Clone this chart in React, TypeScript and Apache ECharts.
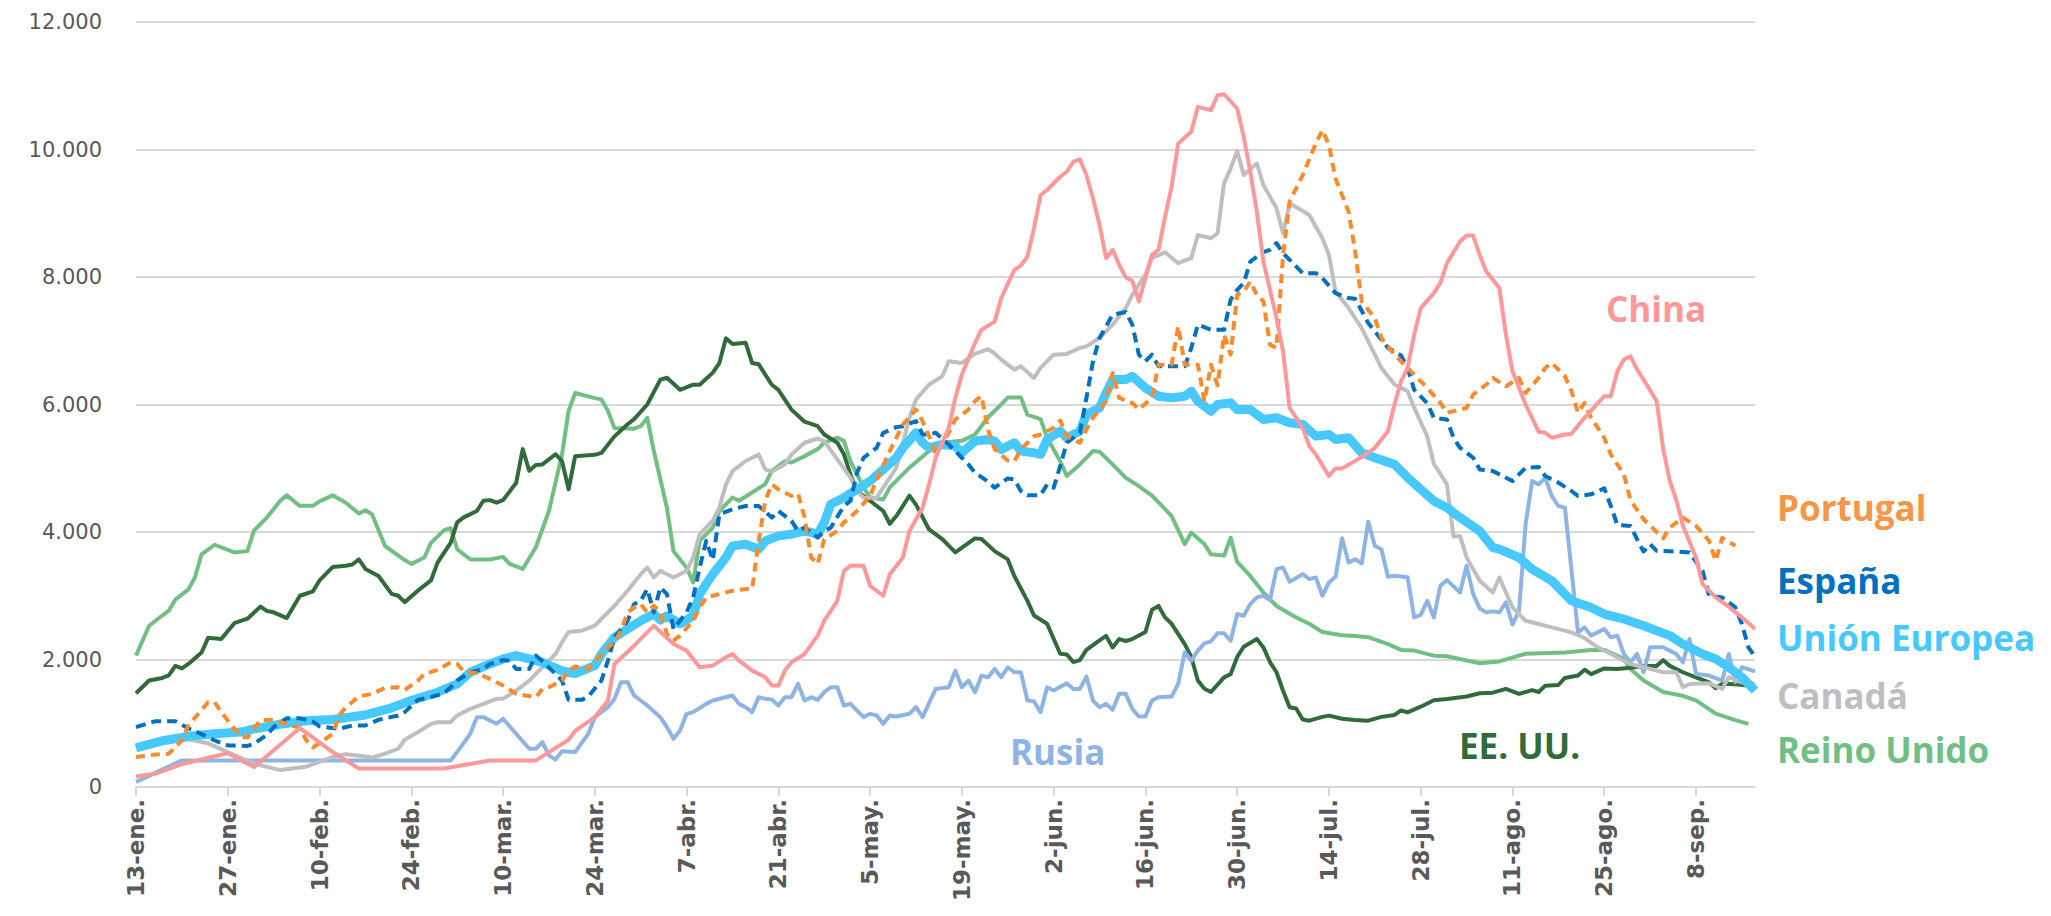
import React, { useEffect, useRef } from "react";
import * as echarts from "echarts";

// ---- axis categories (daily, 13-ene. .. 17-sep.) ----
const monthNames = ["ene.", "feb.", "mar.", "abr.", "may.", "jun.", "jul.", "ago.", "sep."];
const monthLengths = [31, 28, 31, 30, 31, 30, 31, 31, 30];
const firstDay = 13;
const dayCount = 248;
const labelEvery = 14;

// ---- y axis ----
const yMin = 0;
const yMax = 12000;
const yStep = 2000;

// ---- series data: [day index, value] ----
const reinoUnido = [[0,2060],[2,2530],[4,2690],[5,2765],[6,2940],[8,3100],[9,3290],[10,3650],[12,3800],[15,3680],[17,3700],[18,4020],[20,4230],[22,4490],[23,4575],[25,4410],[27,4410],[28,4480],[30,4575],[32,4460],[34,4290],[35,4340],[36,4280],[38,3780],[41,3560],[42,3500],[44,3600],[45,3830],[47,4030],[48,4060],[49,3730],[51,3570],[54,3570],[56,3610],[57,3500],[59,3420],[61,3760],[63,4330],[65,5220],[66,5900],[67,6180],[70,6100],[71,6080],[72,5900],[73,5630],[76,5620],[77,5660],[78,5790],[79,5270],[81,4380],[82,3700],[84,3440],[85,3210],[86,3860],[88,4070],[89,4330],[91,4540],[92,4490],[94,4620],[96,4750],[97,4960],[99,5110],[100,5090],[102,5190],[104,5300],[105,5400],[107,5480],[108,5430],[109,5110],[111,4700],[112,4540],[114,4510],[115,4700],[118,5010],[121,5270],[123,5400],[126,5430],[128,5530],[130,5800],[132,6000],[133,6110],[135,6110],[136,5840],[138,5770],[139,5480],[141,5110],[142,4880],[144,5060],[146,5270],[147,5260],[149,5060],[151,4850],[153,4720],[155,4570],[157,4360],[158,4250],[160,3810],[161,3990],[163,3810],[164,3650],[166,3630],[167,3910],[168,3530],[170,3310],[172,3050],[174,2840],[177,2660],[179,2560],[181,2430],[184,2380],[186,2370],[188,2350],[191,2240],[193,2150],[195,2140],[198,2060],[200,2050],[205,1940],[208,1970],[212,2090],[218,2110],[222,2150],[224,2150],[227,2010],[228,1850],[230,1670],[233,1490],[236,1430],[238,1360],[241,1150],[244,1050],[246,990]];

const eeuu = [[0,1470],[2,1670],[4,1710],[5,1750],[6,1900],[7,1860],[8,1930],[10,2110],[11,2340],[13,2320],[15,2570],[17,2640],[19,2830],[20,2760],[21,2740],[23,2650],[25,3000],[27,3070],[28,3240],[30,3450],[32,3470],[33,3490],[34,3570],[35,3420],[37,3310],[39,3030],[40,3000],[41,2900],[43,3080],[45,3240],[46,3520],[48,3830],[49,4150],[50,4230],[52,4330],[53,4490],[54,4500],[55,4460],[56,4500],[58,4770],[59,5300],[60,4960],[61,5050],[62,5060],[64,5220],[65,5110],[66,4670],[67,5190],[70,5210],[71,5240],[73,5500],[75,5690],[76,5770],[78,6000],[80,6390],[81,6420],[83,6230],[85,6310],[86,6310],[88,6500],[89,6650],[90,7040],[91,6950],[93,6970],[94,6650],[95,6630],[97,6310],[98,6230],[100,5920],[102,5730],[104,5660],[105,5530],[107,5400],[108,5220],[109,4900],[110,4640],[112,4490],[114,4330],[115,4130],[116,4250],[118,4570],[119,4430],[121,4040],[123,3890],[125,3680],[128,3900],[129,3890],[131,3700],[133,3570],[134,3310],[136,2920],[137,2690],[139,2560],[141,2090],[142,2080],[143,1960],[144,1990],[145,2150],[147,2300],[148,2370],[149,2190],[150,2320],[151,2290],[152,2320],[154,2430],[155,2780],[156,2840],[157,2660],[158,2560],[160,2240],[161,2040],[162,1670],[163,1540],[164,1490],[166,1720],[167,1770],[168,2040],[169,2200],[171,2320],[172,2190],[173,1960],[174,1800],[175,1510],[176,1250],[177,1230],[178,1060],[179,1040],[181,1100],[182,1120],[184,1070],[186,1050],[188,1040],[190,1100],[192,1130],[193,1200],[194,1170],[196,1260],[198,1360],[200,1380],[203,1420],[205,1470],[207,1480],[209,1540],[211,1460],[213,1520],[214,1490],[215,1590],[217,1600],[218,1710],[220,1750],[221,1840],[222,1770],[224,1860],[226,1850],[228,1870],[230,1900],[232,1900],[233,1990],[234,1900],[236,1800],[238,1720],[240,1640],[241,1550],[242,1620],[244,1610],[247,1580]];

const china = [[0,170],[3,210],[7,360],[14,530],[18,313],[25,925],[28,700],[30,548],[34,290],[47,290],[54,417],[61,417],[63,548],[66,741],[67,880],[70,1096],[72,1356],[73,1930],[76,2217],[79,2530],[82,2243],[84,2139],[86,1878],[88,1904],[90,2035],[91,2087],[92,1982],[94,1826],[96,1722],[97,1591],[98,1591],[99,1826],[100,1956],[102,2087],[104,2374],[105,2608],[107,2921],[108,3391],[109,3469],[111,3469],[112,3156],[114,3000],[115,3339],[117,3600],[118,4017],[120,4382],[121,4747],[122,5165],[124,5634],[125,6104],[126,6469],[128,6965],[129,7173],[131,7300],[132,7669],[134,8112],[135,8180],[136,8321],[137,8765],[138,9286],[139,9365],[141,9573],[142,9651],[143,9808],[144,9844],[145,9599],[146,9234],[147,8817],[148,8295],[149,8425],[150,8191],[151,7993],[152,7940],[153,7617],[154,7982],[155,8347],[156,8425],[157,8947],[158,9417],[159,10095],[161,10277],[162,10669],[164,10617],[165,10851],[166,10867],[168,10643],[169,10199],[170,9651],[171,9025],[172,8243],[174,7356],[175,6834],[176,5947],[178,5634],[179,5347],[180,5217],[182,4878],[183,4998],[184,4998],[186,5113],[188,5243],[189,5321],[191,5582],[192,6000],[193,6365],[194,6573],[195,7095],[196,7512],[198,7747],[199,7904],[200,8217],[202,8556],[203,8650],[204,8650],[205,8347],[206,8086],[208,7826],[209,7095],[210,6521],[212,6000],[214,5572],[215,5556],[216,5478],[218,5530],[219,5540],[221,5791],[224,6130],[225,6130],[226,6521],[227,6704],[228,6756],[229,6550],[230,6391],[232,6052],[233,5300],[234,4800],[235,4500],[236,4100],[238,3600],[239,3182],[241,2974],[243,2828],[245,2661],[247,2478]];

const rusia = [[0,80],[7,417],[48,417],[49,548],[51,835],[52,1096],[53,1096],[55,991],[56,1070],[58,835],[60,600],[61,600],[62,704],[63,496],[64,430],[65,560],[67,548],[69,835],[70,1096],[72,1252],[73,1383],[74,1643],[75,1643],[76,1435],[78,1278],[80,1096],[81,939],[82,756],[83,887],[84,1148],[85,1174],[87,1304],[88,1356],[91,1435],[92,1304],[93,1252],[94,1174],[95,1409],[96,1383],[97,1372],[98,1278],[99,1409],[100,1409],[101,1617],[102,1356],[103,1409],[104,1367],[105,1487],[106,1565],[107,1565],[108,1278],[109,1304],[111,1096],[112,1148],[113,1122],[114,991],[115,1122],[116,1106],[118,1148],[119,1252],[120,1096],[122,1539],[124,1565],[125,1826],[126,1565],[127,1669],[128,1487],[129,1748],[130,1722],[131,1852],[132,1722],[133,1878],[134,1800],[135,1800],[136,1356],[137,1346],[138,1174],[139,1565],[140,1513],[142,1628],[143,1539],[144,1539],[145,1732],[146,1356],[147,1252],[148,1304],[149,1210],[150,1461],[151,1461],[152,1226],[153,1106],[154,1106],[155,1356],[156,1409],[158,1419],[159,1617],[160,2113],[161,1982],[162,2139],[163,2254],[164,2285],[165,2410],[166,2410],[167,2295],[168,2713],[169,2687],[170,2869],[171,2974],[172,3000],[173,2932],[174,3417],[175,3443],[176,3219],[178,3339],[179,3261],[180,3287],[181,3000],[182,3208],[183,3297],[184,3902],[185,3521],[186,3574],[187,3506],[188,4163],[189,3782],[190,3730],[191,3297],[192,3313],[194,3290],[195,2661],[196,2700],[197,2921],[198,2661],[199,3156],[200,3245],[202,3052],[203,3469],[204,3026],[205,2801],[206,2739],[207,2755],[208,2739],[209,2895],[210,2546],[211,2765],[212,4121],[213,4800],[214,4747],[215,4850],[216,4565],[217,4408],[218,4382],[220,2426],[221,2504],[222,2374],[224,2478],[225,2348],[226,2374],[227,2087],[228,1956],[229,2087],[230,1800],[231,2191],[233,2191],[234,2139],[235,2087],[236,1956],[237,2322],[238,1774],[240,1748],[242,1669],[243,2087],[244,1643],[245,1878],[247,1815]];

const canada = [[0,630],[4,685],[8,750],[11,685],[14,548],[18,365],[22,265],[26,318],[30,470],[32,515],[35,480],[36,460],[38,522],[40,600],[41,741],[43,861],[45,991],[46,1017],[48,1017],[49,1122],[51,1226],[53,1304],[55,1383],[56,1383],[58,1513],[60,1669],[62,1878],[64,2087],[65,2270],[66,2430],[68,2452],[70,2530],[71,2635],[73,2843],[75,3078],[77,3339],[78,3443],[79,3287],[80,3391],[82,3287],[84,3391],[85,3600],[86,3965],[88,4174],[89,4382],[90,4747],[91,4956],[93,5113],[94,5165],[95,5217],[96,4982],[97,4946],[99,5061],[100,5217],[102,5400],[104,5467],[105,5426],[107,5139],[109,4852],[110,4643],[111,4539],[113,4539],[114,4695],[116,5008],[118,5791],[119,6078],[121,6313],[123,6443],[124,6678],[126,6652],[128,6793],[130,6870],[131,6800],[132,6704],[134,6547],[135,6600],[137,6417],[138,6573],[140,6782],[142,6793],[144,6886],[145,6912],[147,7043],[149,7252],[151,7512],[152,7721],[154,8034],[155,8295],[157,8389],[159,8217],[161,8295],[162,8660],[164,8608],[165,8686],[166,9469],[167,9703],[168,9975],[169,9599],[171,9782],[172,9443],[174,9078],[175,8686],[176,9156],[178,9036],[179,8973],[181,8608],[182,8347],[183,7773],[185,7512],[187,7199],[189,6782],[190,6573],[192,6313],[194,6208],[195,5950],[197,5500],[198,5070],[200,4750],[201,3930],[202,3939],[203,3600],[205,3235],[207,3052],[208,3287],[210,2817],[212,2608],[214,2556],[216,2504],[219,2426],[221,2337],[223,2191],[226,2035],[228,1930],[231,1852],[233,1800],[235,1800],[236,1565],[237,1617],[240,1628],[242,1539],[243,1722],[245,1643],[247,1617]];

const unionEuropea = [[0,615],[4,725],[8,795],[12,835],[16,861],[18,910],[22,985],[26,1040],[30,1060],[35,1130],[39,1242],[42,1356],[46,1487],[49,1617],[51,1800],[54,1930],[56,2009],[58,2061],[60,2009],[62,1956],[65,1820],[67,1780],[70,1904],[71,2087],[73,2348],[75,2478],[77,2608],[79,2713],[80,2619],[81,2687],[83,2556],[85,2687],[86,3026],[88,3339],[90,3600],[91,3782],[93,3808],[95,3730],[96,3860],[98,3939],[100,3965],[102,4017],[104,3965],[105,4148],[106,4434],[108,4539],[110,4669],[112,4800],[114,4982],[116,5165],[117,5321],[119,5556],[120,5400],[121,5321],[123,5373],[125,5347],[126,5243],[128,5426],[130,5450],[131,5426],[132,5295],[134,5400],[135,5269],[137,5243],[138,5217],[139,5452],[141,5582],[142,5478],[144,5582],[145,5843],[147,5947],[148,6182],[149,6391],[151,6391],[152,6443],[154,6260],[156,6130],[158,6104],[160,6130],[161,6208],[162,6052],[164,5895],[165,5999],[167,6026],[168,5921],[170,5921],[172,5765],[174,5791],[176,5713],[178,5687],[180,5504],[182,5530],[183,5452],[185,5478],[187,5243],[189,5165],[192,5061],[194,4852],[196,4669],[198,4487],[200,4382],[202,4226],[205,4017],[207,3756],[208,3730],[211,3600],[213,3417],[216,3235],[219,2921],[222,2817],[224,2713],[227,2635],[230,2530],[234,2374],[236,2243],[239,2087],[241,2009],[243,1878],[245,1722],[247,1513]];

const espana = [[0,940],[3,1033],[6,1033],[8,920],[10,830],[12,730],[14,652],[17,645],[18,678],[20,820],[21,939],[23,1078],[25,1078],[27,1025],[28,952],[31,913],[33,965],[35,965],[37,1054],[40,1122],[41,1174],[43,1367],[45,1409],[47,1471],[48,1565],[49,1669],[51,1800],[53,1852],[54,1930],[56,1993],[57,1982],[58,1852],[60,1852],[61,2061],[62,1972],[64,1774],[65,1669],[66,1367],[68,1367],[69,1419],[71,1669],[72,1982],[73,2348],[75,2608],[76,2869],[77,2921],[78,3104],[79,2739],[80,3130],[81,3026],[82,2478],[84,2739],[85,2974],[86,3443],[87,3861],[88,3560],[89,4278],[91,4356],[93,4408],[95,4408],[97,4226],[98,4330],[100,4174],[101,4017],[102,4069],[104,3913],[105,4017],[106,4069],[108,4408],[109,4487],[110,4930],[111,5165],[113,5321],[114,5556],[116,5645],[117,5660],[119,5739],[120,5530],[121,5530],[122,5556],[124,5373],[126,5165],[127,5060],[128,4930],[130,4790],[131,4695],[133,4840],[134,4826],[135,4643],[136,4575],[138,4575],[139,4747],[140,4695],[141,5034],[142,5400],[144,5556],[145,6104],[146,6678],[147,7043],[148,7226],[149,7408],[151,7450],[152,7252],[153,6782],[154,6678],[155,6782],[156,6600],[160,6600],[161,6886],[162,7252],[164,7173],[166,7173],[167,7643],[168,7799],[169,7904],[170,8243],[172,8389],[173,8425],[174,8530],[175,8373],[176,8269],[178,8060],[180,8060],[181,7982],[183,7747],[185,7669],[186,7659],[188,7278],[189,7147],[191,6886],[193,6770],[194,6573],[195,6230],[197,6020],[198,5791],[200,5765],[201,5478],[202,5321],[204,5165],[205,4982],[207,4956],[209,4852],[210,4800],[212,5008],[214,5019],[215,4878],[217,4774],[219,4643],[220,4565],[222,4591],[224,4685],[225,4410],[226,4110],[228,4095],[229,3887],[230,3694],[231,3808],[232,3704],[235,3694],[237,3678],[239,3391],[240,3000],[242,2974],[244,2817],[245,2556],[246,2191],[247,2040]];

const portugal = [[0,470],[3,510],[5,522],[7,730],[8,965],[10,1210],[11,1330],[12,1330],[13,1174],[15,913],[16,790],[17,775],[18,913],[19,1050],[21,1050],[23,991],[25,926],[26,730],[27,620],[28,690],[30,835],[31,1122],[32,1250],[34,1419],[36,1461],[38,1555],[40,1565],[41,1523],[43,1669],[44,1774],[46,1836],[48,1956],[49,1930],[50,1815],[52,1784],[54,1696],[56,1591],[58,1461],[61,1409],[62,1539],[63,1565],[65,1669],[66,1826],[67,1890],[69,1852],[70,1956],[72,2191],[73,2269],[74,2452],[75,2739],[76,2817],[77,2869],[78,2739],[79,2843],[80,2739],[81,2400],[82,2295],[83,2374],[85,2608],[86,2817],[87,2974],[89,3026],[91,3078],[93,3104],[94,3104],[95,3861],[96,4487],[97,4747],[98,4669],[100,4565],[101,4601],[102,4226],[103,3600],[104,3500],[105,3887],[107,4017],[108,4148],[110,4330],[112,4565],[113,4826],[115,5269],[117,5687],[119,5921],[120,5739],[121,5504],[122,5217],[124,5556],[125,5765],[127,5921],[128,6052],[129,6130],[130,5600],[131,5300],[133,5120],[134,5113],[135,5295],[137,5504],[138,5530],[140,5634],[141,5749],[142,5504],[144,5400],[145,5608],[146,5791],[148,6052],[149,6495],[150,6104],[152,6026],[153,5921],[155,6104],[156,6625],[158,6625],[159,7226],[160,6625],[162,6625],[163,6052],[164,6625],[165,6300],[166,7095],[167,6782],[168,7721],[169,7773],[170,7930],[171,7721],[172,7617],[173,6939],[174,6886],[175,8347],[176,9182],[178,9599],[180,10095],[181,10304],[182,10069],[183,9547],[185,9025],[186,8399],[187,7617],[189,7356],[190,7043],[192,6782],[193,6678],[195,6469],[197,6260],[199,6026],[200,5869],[203,5947],[204,6156],[206,6313],[207,6417],[209,6286],[211,6417],[212,6182],[214,6417],[215,6573],[216,6652],[218,6443],[219,6208],[220,5870],[221,6026],[222,5791],[224,5478],[225,5217],[227,4904],[228,4500],[230,4200],[232,4000],[233,3900],[234,4069],[236,4226],[238,4095],[240,3861],[241,3548],[242,3908],[244,3783]];

// ---- series styling ----
const seriesDefs = [
  { name: "Reino Unido", data: reinoUnido, color: "#72BF84", width: 4, dash: "solid" },
  { name: "EE. UU.", data: eeuu, color: "#316B3C", width: 4, dash: "solid" },
  { name: "Rusia", data: rusia, color: "#8EB4E3", width: 4, dash: "solid" },
  { name: "Canadá", data: canada, color: "#BFBFBF", width: 4, dash: "solid" },
  { name: "Unión Europea", data: unionEuropea, color: "#47C8FF", width: 9, dash: "solid" },
  { name: "España", data: espana, color: "#0070C0", width: 4, dash: [10, 6] },
  { name: "Portugal", data: portugal, color: "#FF8A2B", width: 4, dash: [9, 6] },
  { name: "China", data: china, color: "#FF9999", width: 4, dash: "solid" },
];

const seriesLabels = [
  { text: "China", x: 1606, y: 321, color: "#FF9999" },
  { text: "Portugal", x: 1777, y: 520, color: "#F79646" },
  { text: "España", x: 1777, y: 593, color: "#0070C0" },
  { text: "Unión Europea", x: 1777, y: 650, color: "#47C8FF" },
  { text: "Canadá", x: 1777, y: 708, color: "#BFBFBF" },
  { text: "Reino Unido", x: 1777, y: 762, color: "#72BF84" },
  { text: "Rusia", x: 1010, y: 764, color: "#8EB4E3" },
  { text: "EE. UU.", x: 1459, y: 758, color: "#316B3C" },
];

function buildCategories(): string[] {
  const out: string[] = [];
  let m = 0;
  let d = firstDay;
  for (let i = 0; i < dayCount; i++) {
    out.push(d + "-" + monthNames[m]);
    d++;
    if (d > monthLengths[m]) {
      d = 1;
      m++;
    }
  }
  return out;
}

const labelFont = 35;

export default function App() {
  const ref = useRef<HTMLDivElement>(null);
  useEffect(() => {
    if (!ref.current) return;
    const chart = echarts.init(ref.current, undefined, { renderer: "svg" });
    const categories = buildCategories();
    chart.setOption({
      animation: false,
      backgroundColor: "#FFFFFF",
      grid: { left: 136, right: 296, top: 22, bottom: 129, containLabel: false },
      xAxis: {
        type: "category",
        data: categories,
        boundaryGap: false,
        axisLine: { show: true, lineStyle: { color: "#D9D9D9", width: 2 } },
        axisTick: { show: true, interval: labelEvery - 1, length: 9, lineStyle: { color: "#D9D9D9", width: 2 } },
        axisLabel: {
          interval: labelEvery - 1,
          rotate: 90,
          margin: 12,
          color: "#595959",
          fontFamily: "DejaVu Sans",
          fontWeight: "bold",
          fontSize: 23,
        },
        splitLine: { show: false },
      },
      yAxis: {
        type: "value",
        min: yMin,
        max: yMax,
        interval: yStep,
        axisLine: { show: false },
        axisTick: { show: false },
        axisLabel: {
          margin: 34,
          color: "#595959",
          fontFamily: "DejaVu Sans",
          fontSize: 21,
          formatter: (v: number) => v.toLocaleString("de-DE"),
        },
        splitLine: { show: true, lineStyle: { color: "#D9D9D9", width: 2 } },
      },
      series: seriesDefs.map((s) => ({
        name: s.name,
        type: "line",
        data: s.data,
        showSymbol: false,
        symbol: "none",
        smooth: false,
        lineStyle: { color: s.color, width: s.width, type: s.dash, cap: "butt", join: "round" },
        itemStyle: { color: s.color },
        emphasis: { disabled: true },
      })),
      graphic: seriesLabels.map((l) => ({
        type: "text",
        x: l.x,
        y: l.y - labelFont * 0.37,
        style: {
          text: l.text,
          fill: l.color,
          font: `bold ${labelFont}px "Open Sans"`,
          verticalAlign: "middle",
          align: "left",
        },
        z: 100,
      })),
    });
    return () => chart.dispose();
  }, []);
  return (
    <div
      ref={ref}
      style={{ position: "fixed", left: 0, top: 0, width: 2051, height: 916, background: "#fff" }}
    />
  );
}
